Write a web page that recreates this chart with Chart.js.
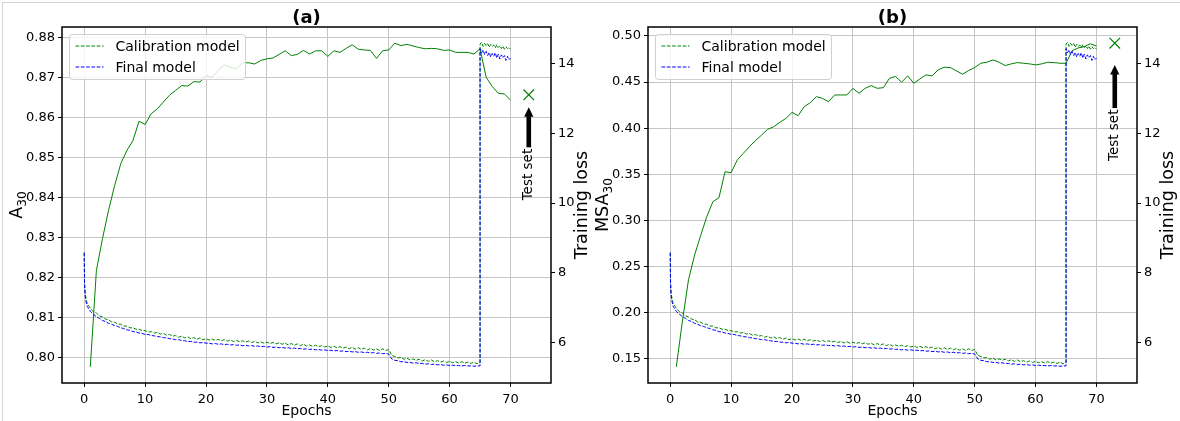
<!DOCTYPE html>
<html>
<head>
<meta charset="utf-8">
<script src="https://cdn.jsdelivr.net/npm/chart.js@4.4.1/dist/chart.umd.min.js"></script>
<style>
  html, body { margin: 0; padding: 0; background: #fff; }
  #page { position: relative; width: 1180px; height: 421px; overflow: hidden; }
  #edge { position: absolute; left: 2px; top: 2px; width: 1178px; height: 419px;
          border-left: 1px solid #d4d4d4; border-top: 1px solid #d4d4d4; }
  canvas { position: absolute; top: 0; }
</style>
</head>
<body>
<div id="page">
  <div id="edge"></div>
  <canvas id="chartA" width="594" height="421" style="left:0"></canvas>
  <canvas id="chartB" width="594" height="421" style="left:586px"></canvas>
</div>
<script>
// ---- data ----

// training loss, sampled every half epoch (same runs in both panels)
const lossEpochs = [0, 0.05, 0.15, 0.3, 0.5, 1, 1.5, 2, 2.5, 3, 3.5, 4, 4.5, 5, 5.5, 6, 6.5, 7, 7.5, 8, 8.5, 9, 9.5, 10,
  10.5, 11, 11.5, 12, 12.5, 13, 13.5, 14, 14.5, 15, 15.5, 16, 16.5, 17, 17.5, 18, 18.5, 19, 19.5, 20,
  20.5, 21, 21.5, 22, 22.5, 23, 23.5, 24, 24.5, 25, 25.5, 26, 26.5, 27, 27.5, 28, 28.5, 29, 29.5, 30,
  30.5, 31, 31.5, 32, 32.5, 33, 33.5, 34, 34.5, 35, 35.5, 36, 36.5, 37, 37.5, 38, 38.5, 39, 39.5, 40,
  40.5, 41, 41.5, 42, 42.5, 43, 43.5, 44, 44.5, 45, 45.5, 46, 46.5, 47, 47.5, 48, 48.5, 49, 49.5, 50,
  50.5, 51, 51.5, 52, 52.5, 53, 53.5, 54, 54.5, 55, 55.5, 56, 56.5, 57, 57.5, 58, 58.5, 59, 59.5, 60,
  60.5, 61, 61.5, 62, 62.5, 63, 63.5, 64, 64.5, 65];
const calibLoss = [8.58, 7.75, 7.42, 7.25, 7.12, 6.99, 6.89, 6.85, 6.77, 6.74, 6.68, 6.66, 6.60, 6.59, 6.54, 6.53, 6.48, 6.48, 6.43, 6.43, 6.39, 6.39, 6.35, 6.35,
  6.31, 6.32, 6.28, 6.30, 6.25, 6.27, 6.22, 6.24, 6.19, 6.21, 6.16, 6.19, 6.14, 6.17, 6.12, 6.15, 6.10, 6.14, 6.09, 6.12,
  6.08, 6.11, 6.07, 6.10, 6.06, 6.09, 6.05, 6.08, 6.04, 6.07, 6.03, 6.06, 6.02, 6.05, 6.01, 6.04, 6.00, 6.03, 5.99, 6.02,
  5.98, 6.01, 5.97, 6.00, 5.96, 5.99, 5.94, 5.98, 5.93, 5.97, 5.92, 5.96, 5.91, 5.94, 5.90, 5.93, 5.89, 5.92, 5.88, 5.91,
  5.87, 5.90, 5.86, 5.89, 5.85, 5.88, 5.83, 5.87, 5.82, 5.86, 5.81, 5.85, 5.80, 5.84, 5.79, 5.83, 5.78, 5.83, 5.78, 5.81,
  5.64, 5.61, 5.57, 5.58, 5.53, 5.56, 5.51, 5.54, 5.50, 5.53, 5.48, 5.52, 5.47, 5.51, 5.46, 5.49, 5.45, 5.48, 5.44, 5.47,
  5.43, 5.46, 5.42, 5.46, 5.42, 5.45, 5.41, 5.45, 5.40, 5.43];
const finalLoss = [8.58, 7.68, 7.35, 7.17, 7.04, 6.90, 6.82, 6.75, 6.70, 6.64, 6.61, 6.56, 6.53, 6.49, 6.47, 6.43, 6.41, 6.37, 6.36, 6.32, 6.31, 6.28, 6.27, 6.24,
  6.24, 6.21, 6.20, 6.18, 6.17, 6.15, 6.14, 6.12, 6.11, 6.09, 6.09, 6.07, 6.06, 6.04, 6.04, 6.02, 6.02, 6.00, 6.01, 5.99,
  5.99, 5.97, 5.98, 5.96, 5.97, 5.95, 5.96, 5.94, 5.95, 5.93, 5.94, 5.92, 5.93, 5.91, 5.92, 5.90, 5.91, 5.89, 5.90, 5.88,
  5.89, 5.87, 5.88, 5.86, 5.87, 5.85, 5.86, 5.84, 5.85, 5.83, 5.84, 5.82, 5.83, 5.81, 5.82, 5.80, 5.81, 5.79, 5.80, 5.78,
  5.79, 5.77, 5.78, 5.76, 5.77, 5.75, 5.76, 5.74, 5.75, 5.73, 5.74, 5.72, 5.73, 5.71, 5.72, 5.70, 5.71, 5.69, 5.70, 5.68,
  5.54, 5.50, 5.49, 5.46, 5.46, 5.44, 5.44, 5.42, 5.43, 5.41, 5.41, 5.39, 5.40, 5.38, 5.39, 5.37, 5.38, 5.36, 5.37, 5.35,
  5.36, 5.35, 5.35, 5.34, 5.35, 5.34, 5.34, 5.33, 5.34, 5.34];

// after the restart at epoch 65, sampled every quarter epoch
const postEpochs = [65, 65.25, 65.5, 65.75, 66, 66.25, 66.5, 66.75, 67, 67.25, 67.5, 67.75, 68, 68.25, 68.5, 68.75, 69, 69.25, 69.5, 69.75, 70];
const calibLossPost = [14.55, 14.60, 14.48, 14.57, 14.50, 14.56, 14.46, 14.54, 14.48, 14.52, 14.44, 14.53, 14.45, 14.50, 14.42, 14.49, 14.40, 14.47, 14.42, 14.45, 14.40];
const finalLossPost = [14.42, 14.30, 14.38, 14.25, 14.34, 14.22, 14.31, 14.18, 14.28, 14.20, 14.30, 14.15, 14.26, 14.12, 14.24, 14.16, 14.22, 14.08, 14.20, 14.10, 14.15];

// validation metrics per epoch
const metricEpochs = [1, 2, 3, 4, 5, 6, 7, 8, 9, 10, 11, 12, 13, 14, 15, 16, 17, 18, 19, 20,
  21, 22, 23, 24, 25, 26, 27, 28, 29, 30, 31, 32, 33, 34, 35, 36, 37, 38, 39, 40,
  41, 42, 43, 44, 45, 46, 47, 48, 49, 50, 51, 52, 53, 54, 55, 56, 57, 58, 59, 60,
  61, 62, 63, 64, 65, 66, 67, 68, 69, 70];
const a30 = [0.7977, 0.8218, 0.8297, 0.8368, 0.8430, 0.8484, 0.8517, 0.8542, 0.8590, 0.8582,
  0.8609, 0.8621, 0.8638, 0.8655, 0.8667, 0.8679, 0.8678, 0.8689, 0.8688, 0.8704,
  0.8700, 0.8717, 0.8731, 0.8725, 0.8721, 0.8736, 0.8736, 0.8733, 0.8742, 0.8746,
  0.8748, 0.8757, 0.8766, 0.8754, 0.8757, 0.8767, 0.8758, 0.8766, 0.8766, 0.8752,
  0.8766, 0.8762, 0.8772, 0.8781, 0.8770, 0.8768, 0.8767, 0.8747, 0.8766, 0.8768,
  0.8785, 0.8779, 0.8782, 0.8778, 0.8774, 0.8771, 0.8772, 0.8771, 0.8767, 0.8768,
  0.8762, 0.8762, 0.8762, 0.8758, 0.8771, 0.8700, 0.8677, 0.8660, 0.8658, 0.8643];
const msa30 = [0.1411, 0.1907, 0.2355, 0.2623, 0.2836, 0.3039, 0.3202, 0.3245, 0.3527, 0.3517,
  0.3654, 0.3727, 0.3799, 0.3865, 0.3925, 0.3987, 0.4016, 0.4063, 0.4106, 0.4171,
  0.4135, 0.4233, 0.4276, 0.4342, 0.4323, 0.4287, 0.4360, 0.4360, 0.4360, 0.4432,
  0.4378, 0.4432, 0.4461, 0.4432, 0.4439, 0.4541, 0.4560, 0.4498, 0.4567, 0.4487,
  0.4534, 0.4578, 0.4567, 0.4632, 0.4661, 0.4657, 0.4621, 0.4585, 0.4625, 0.4657,
  0.4704, 0.4715, 0.4740, 0.4715, 0.4679, 0.4697, 0.4711, 0.4704, 0.4697, 0.4686,
  0.4697, 0.4715, 0.4711, 0.4704, 0.4704, 0.4840, 0.4870, 0.4885, 0.4915, 0.4890];

const testEpoch = 73;
const testA30 = 0.8656;
const testMSA30 = 0.4921;

// tick labels
const epochTicks = [0, 10, 20, 30, 40, 50, 60, 70];
const a30Ticks = [0.80, 0.81, 0.82, 0.83, 0.84, 0.85, 0.86, 0.87, 0.88];
const msa30Ticks = [0.15, 0.20, 0.25, 0.30, 0.35, 0.40, 0.45, 0.50];
const lossTicks = [6, 8, 10, 12, 14];

// ---- drawing ----
const FONT = '"DejaVu Sans"';
const GRID = '#c6c6c6';
Chart.defaults.font.family = FONT;
Chart.defaults.color = '#000';

function pts(xs, ys) { return xs.map((x, i) => ({ x: x, y: ys[i] })); }

const decor = {
  id: 'decor',
  afterDatasetsDraw(chart, args, o) {
    const ctx = chart.ctx, a = chart.chartArea;
    const xs = chart.scales.x, ys = chart.scales.y;
    ctx.save();
    // test set arrow + text
    const ax = xs.getPixelForValue(testEpoch);
    const tip = ys.getPixelForValue(o.arrowTip), tail = ys.getPixelForValue(o.arrowTail);
    ctx.fillStyle = '#000';
    ctx.fillRect(ax - 2.3, tip + 9, 4.6, tail - tip - 9);
    ctx.beginPath();
    ctx.moveTo(ax - 4.6, tip + 9.5); ctx.lineTo(ax + 4.6, tip + 9.5); ctx.lineTo(ax, tip);
    ctx.closePath(); ctx.fill();
    ctx.save();
    ctx.translate(ax, tail + 1.5);
    ctx.rotate(-Math.PI / 2);
    ctx.font = '13.5px ' + FONT;
    ctx.textAlign = 'right'; ctx.textBaseline = 'middle';
    ctx.fillText('Test set', 0, 0);
    ctx.restore();

    // frame
    ctx.strokeStyle = '#000'; ctx.lineWidth = 1.5;
    ctx.strokeRect(a.left, a.top, a.right - a.left, a.bottom - a.top);

    // legend
    const lx = a.left + 7.5, ly = a.top + 7.5, lw = 176, lh = 45;
    ctx.beginPath();
    ctx.roundRect(lx, ly, lw, lh, 3);
    ctx.fillStyle = 'rgba(255,255,255,0.8)'; ctx.fill();
    ctx.strokeStyle = '#d0d0d0'; ctx.lineWidth = 1; ctx.stroke();
    const items = [['Calibration model', 'green'], ['Final model', 'blue']];
    ctx.font = '14px ' + FONT; ctx.textBaseline = 'middle'; ctx.textAlign = 'left';
    items.forEach((it, i) => {
      const yy = ly + 11.5 + i * 21;
      ctx.setLineDash([3.7, 1.6]);
      ctx.strokeStyle = it[1];
      ctx.beginPath(); ctx.moveTo(lx + 6, yy); ctx.lineTo(lx + 34, yy); ctx.stroke();
      ctx.setLineDash([]);
      ctx.fillStyle = '#000';
      ctx.fillText(it[0], lx + 46, yy + 1);
    });
    ctx.restore();
  },
  afterDraw(chart, args, o) {
    const ctx = chart.ctx, a = chart.chartArea;
    const cy = (a.top + a.bottom) / 2, cx = (a.left + a.right) / 2;
    ctx.save();
    ctx.fillStyle = '#000';
    // title
    ctx.font = 'bold 18px ' + FONT; ctx.textAlign = 'center'; ctx.textBaseline = 'alphabetic';
    ctx.fillText(o.title, cx, 23);
    // x label
    ctx.font = '14px ' + FONT;
    ctx.fillText('Epochs', cx, a.bottom + 32);
    // left label with subscript
    const size = 17.5;
    ctx.save();
    ctx.translate(a.left - 46, cy);
    ctx.rotate(-Math.PI / 2);
    ctx.font = size + 'px ' + FONT;
    const w1 = ctx.measureText(o.yMain).width;
    ctx.font = (size * 0.7) + 'px ' + FONT;
    const w2 = ctx.measureText(o.ySub).width;
    const x0 = -(w1 + w2) / 2;
    ctx.textAlign = 'left';
    ctx.font = size + 'px ' + FONT;
    ctx.fillText(o.yMain, x0, size * 0.36);
    ctx.font = (size * 0.7) + 'px ' + FONT;
    ctx.fillText(o.ySub, x0 + w1, size * 0.36 + size * 0.22);
    ctx.restore();
    // right label
    ctx.save();
    ctx.translate(a.right + 29.5, cy);
    ctx.rotate(-Math.PI / 2);
    ctx.font = size + 'px ' + FONT; ctx.textAlign = 'center';
    ctx.fillText('Training loss', 0, size * 0.36);
    ctx.restore();
    ctx.restore();
  }
};
Chart.register(decor);

function makePanel(id, title, yMain, ySub, values, testVal, yTicks, yMin, yMax, arrowTip, arrowTail) {
  const lossAxis = {
    position: 'right', min: 4.851, max: 15.037,
    afterBuildTicks: s => { s.ticks = lossTicks.map(v => ({ value: v })); },
    afterFit: s => { s.width = 43; },
    grid: { drawOnChartArea: false, tickColor: '#000', tickLength: 4 },
    border: { display: false },
    ticks: { font: { size: 13 }, color: '#000', padding: 3, callback: v => String(v) }
  };
  new Chart(document.getElementById(id), {
    type: 'line',
    data: {
      datasets: [
        { label: 'Final model', data: pts(lossEpochs, finalLoss).concat(pts(postEpochs, finalLossPost)),
          yAxisID: 'y2', borderColor: 'blue', borderWidth: 1, borderDash: [3.7, 1.6], pointRadius: 0, order: 0 },
        { label: 'Calibration model', data: pts(lossEpochs, calibLoss).concat(pts(postEpochs, calibLossPost)),
          yAxisID: 'y2', borderColor: 'green', borderWidth: 1, borderDash: [3.7, 1.6], pointRadius: 0, order: 1 },
        { label: yMain + ySub, data: pts(metricEpochs, values),
          yAxisID: 'y', borderColor: 'green', borderWidth: 1, pointRadius: 0, order: 2 },
        { label: 'Test set', data: [{ x: testEpoch, y: testVal }], yAxisID: 'y', showLine: false,
          pointStyle: 'crossRot', pointRadius: 7.5, pointHoverRadius: 7.5, borderColor: 'green',
          borderWidth: 1.2, order: 3 }
      ]
    },
    options: {
      responsive: false, animation: false, devicePixelRatio: 1,
      layout: { padding: { top: 27, left: 0, right: 0, bottom: 0 } },
      elements: { line: { tension: 0 } },
      scales: {
        x: {
          type: 'linear', min: -3.65, max: 76.65,
          afterBuildTicks: s => { s.ticks = epochTicks.map(v => ({ value: v })); },
          afterFit: s => { s.height = 38; },
          grid: { color: GRID, tickColor: '#000', tickLength: 4 },
          border: { display: false },
          ticks: { font: { size: 13 }, color: '#000', padding: 5, maxRotation: 0, callback: v => String(v) }
        },
        y: {
          position: 'left', min: yMin, max: yMax,
          afterBuildTicks: s => { s.ticks = yTicks.map(v => ({ value: v })); },
          afterFit: s => { s.width = 62; },
          grid: { color: GRID, tickColor: '#000', tickLength: 4 },
          border: { display: false },
          ticks: { font: { size: 13 }, color: '#000', padding: 3, callback: v => v.toFixed(2) }
        },
        y2: lossAxis
      },
      plugins: {
        legend: { display: false },
        tooltip: { enabled: false },
        decor: { title: title, yMain: yMain, ySub: ySub, arrowTip: arrowTip, arrowTail: arrowTail }
      }
    }
  });
}

makePanel('chartA', '(a)', 'A', '30', a30, testA30, a30Ticks, 0.79366, 0.88254, 0.8625, 0.8525);
makePanel('chartB', '(b)', 'MSA', '30', msa30, testMSA30, msa30Ticks, 0.1236, 0.5097, 0.4685, 0.4218);
</script>
</body>
</html>
